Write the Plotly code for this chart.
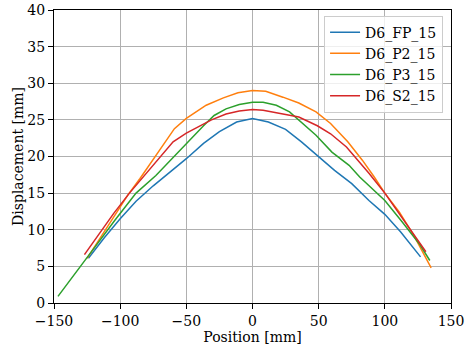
import plotly.graph_objects as go

# ---- data ----
fp_x = [-124, -112, -100, -88, -75, -62, -50, -37, -25, -12, 0, 12, 25, 37, 50, 62, 75, 88, 100, 112, 127]
fp_y = [6.1, 8.9, 11.5, 13.9, 16.0, 17.9, 19.7, 21.8, 23.4, 24.7, 25.2, 24.7, 23.7, 22.0, 20.0, 18.1, 16.3, 14.0, 12.1, 9.7, 6.3]

p2_x = [-125, -118, -110, -100, -94, -85, -75, -59, -50, -35, -22, -11, 0, 10, 23, 35, 48, 59, 72, 83, 92, 100, 111, 122, 135]
p2_y = [6.1, 8.1, 10.4, 13.1, 14.8, 17.0, 19.6, 23.8, 25.2, 27.0, 28.0, 28.7, 29.0, 28.9, 28.1, 27.3, 26.1, 24.5, 22.0, 19.5, 17.2, 15.0, 12.4, 9.2, 4.8]

p3_x = [-147, -130, -118, -104, -88, -73, -62, -49, -37, -29, -20, -10, 0, 8, 18, 28, 35, 48, 60, 66, 73, 81, 100, 113, 126, 134]
p3_y = [0.9, 5.1, 7.9, 11.3, 15.0, 17.4, 19.5, 22.0, 24.2, 25.6, 26.5, 27.1, 27.4, 27.4, 27.0, 26.1, 25.0, 22.9, 20.6, 19.8, 18.8, 17.2, 14.0, 11.1, 8.1, 5.8]

s2_x = [-127, -114, -105, -93, -80, -71, -60, -50, -37, -31, -20, -10, 0, 8, 23, 35, 49, 59, 71, 82, 88, 100, 113, 123, 131]
s2_y = [6.6, 10.0, 12.2, 15.0, 17.7, 19.7, 22.0, 23.2, 24.5, 25.0, 25.8, 26.2, 26.4, 26.3, 25.8, 25.4, 24.2, 23.1, 21.3, 19.0, 17.7, 15.0, 11.7, 9.0, 7.0]

names = ["D6_FP_15", "D6_P2_15", "D6_P3_15", "D6_S2_15"]
colors = ["#1f77b4", "#ff7f0e", "#2ca02c", "#d62728"]
x_ticks = [-150, -100, -50, 0, 50, 100, 150]
y_ticks = [0, 5, 10, 15, 20, 25, 30, 35, 40]

series = [(fp_x, fp_y), (p2_x, p2_y), (p3_x, p3_y), (s2_x, s2_y)]

fig = go.Figure()
for (xs, ys), name, col in zip(series, names, colors):
    fig.add_trace(go.Scatter(x=xs, y=ys, mode="lines", name=name,
                             line=dict(color=col, width=1.5)))

font_family = "DejaVu Serif"
FS = 14
axis_common = dict(
    showline=True, linecolor="#000000", linewidth=1, mirror=True,
    ticks="outside", ticklen=5, tickwidth=1, tickcolor="#000000",
    showgrid=True, gridcolor="#b0b0b0", gridwidth=1,
    zeroline=False, automargin=False,
    tickfont=dict(family=font_family, size=FS, color="#000000"),
    title_font=dict(family=font_family, size=FS, color="#000000"),
)

fig.update_layout(
    width=472, height=348,
    margin=dict(l=54, r=21, t=10, b=45),
    paper_bgcolor="white", plot_bgcolor="white",
    font=dict(family=font_family, size=FS, color="#000000"),
    xaxis=dict(range=[-150, 150], tickvals=x_ticks, title=dict(text="Position [mm]", standoff=0), **axis_common),
    yaxis=dict(range=[0, 40], tickvals=y_ticks, title=dict(text="Displacement [mm]", standoff=0), **axis_common),
    legend=dict(x=0.98, y=0.981, xanchor="right", yanchor="top",
                bgcolor="rgba(255,255,255,0.8)", bordercolor="#cccccc", borderwidth=1,
                font=dict(family=font_family, size=FS, color="#000000")),
    showlegend=True,
)

fig.write_html("out.html")
